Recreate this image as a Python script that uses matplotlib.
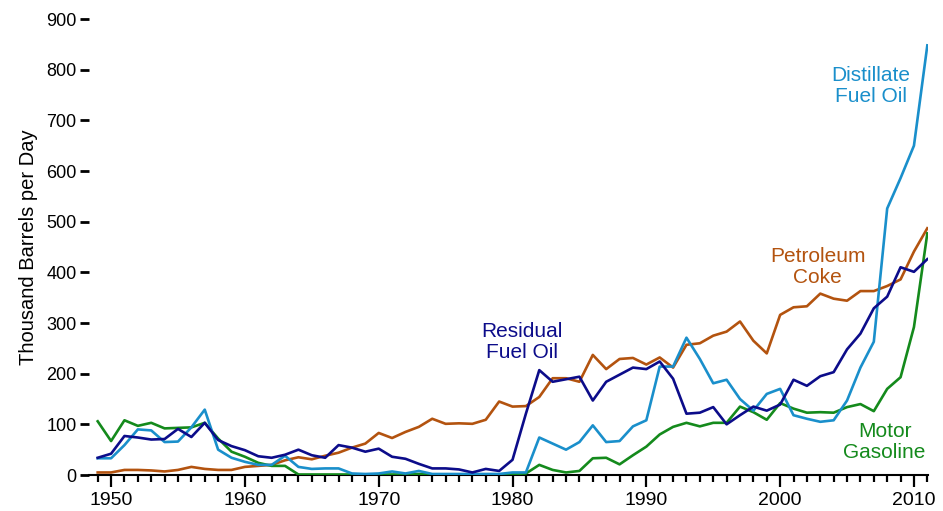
import matplotlib
matplotlib.use("Agg")
import matplotlib.pyplot as plt
from matplotlib.ticker import MultipleLocator

plt.rcParams['font.family'] = ['Liberation Sans', 'DejaVu Sans']

years = list(range(1949, 2012))

residual = [34, 42, 77, 74, 70, 71, 91, 75, 103, 69, 57, 49, 37, 34, 40, 50, 39, 34, 59, 54,
            46, 52, 36, 32, 22, 13, 13, 11, 5, 12, 8, 30, 121, 207, 184, 189, 194, 147, 184, 198,
            212, 209, 224, 190, 121, 123, 134, 100, 118, 135, 127, 139, 188, 176, 195, 203, 248, 279, 329, 352,
            410, 401, 426]

distillate = [33, 33, 59, 90, 88, 65, 66, 94, 129, 50, 34, 26, 20, 20, 38, 16, 12, 13, 13, 3,
              2, 3, 7, 3, 8, 2, 2, 2, 2, 2, 2, 5, 5, 74, 62, 50, 65, 98, 65, 67,
              96, 108, 214, 214, 271, 229, 181, 188, 150, 127, 160, 170, 118, 111, 105, 108, 147, 212, 263, 526,
              586, 650, 848]

gasoline = [106, 67, 108, 97, 103, 92, 93, 94, 103, 72, 46, 36, 24, 18, 18, 1, 1, 1, 1, 1,
            1, 1, 1, 1, 2, 1, 1, 1, 1, 1, 1, 2, 3, 20, 10, 5, 8, 33, 34, 21,
            39, 56, 80, 95, 103, 96, 103, 103, 135, 124, 109, 142, 131, 123, 124, 123, 134, 140, 126, 170,
            193, 292, 477]

coke = [5, 5, 10, 10, 9, 7, 10, 16, 12, 10, 10, 16, 18, 20, 29, 35, 31, 38, 44, 54,
        62, 83, 73, 85, 95, 111, 101, 102, 101, 109, 145, 135, 136, 154, 191, 191, 184, 237, 209, 229,
        231, 218, 232, 212, 257, 260, 275, 283, 303, 265, 240, 316, 331, 333, 358, 348, 344, 363, 363, 373,
        386, 441, 487]

c_res = "#0c0c8a"
c_dist = "#1a8fcb"
c_gas = "#148a1c"
c_coke = "#b3530f"

fig = plt.figure(figsize=(9.43, 5.11), dpi=100)
ax = fig.add_axes([89/943, 1 - 475/511, (928 - 89)/943, (475 - 19)/511])

lw = 1.9
ax.plot(years, coke, color=c_coke, lw=lw, zorder=3)
ax.plot(years, gasoline, color=c_gas, lw=lw, zorder=4)
ax.plot(years, distillate, color=c_dist, lw=lw, zorder=5)
ax.plot(years, residual, color=c_res, lw=lw, zorder=6)

ax.set_xlim(1948.35, 2011.05)
ax.set_ylim(0, 900)

for s in ['top', 'right', 'left']:
    ax.spines[s].set_visible(False)
ax.spines['bottom'].set_linewidth(1.5)
ax.spines['bottom'].set_color('black')

ax.xaxis.set_major_locator(MultipleLocator(10))
ax.xaxis.set_minor_locator(MultipleLocator(1))
ax.yaxis.set_major_locator(MultipleLocator(100))
ax.tick_params(axis='x', which='major', direction='out', length=8.5, width=1.6, pad=3.5, labelsize=14)
ax.tick_params(axis='x', which='minor', direction='out', length=5, width=1.6)
ax.tick_params(axis='y', which='major', direction='out', length=6.5, width=2, pad=2.5, labelsize=13)

ax.set_ylabel("Thousand Barrels per Day", fontsize=14.5, labelpad=6)

fs = 15
ax.text(2006.8, 768, "Distillate\nFuel Oil", color=c_dist, fontsize=fs, ha='center', va='center', linespacing=1.15)
ax.text(2002.8, 410, "Petroleum\nCoke", color=c_coke, fontsize=fs, ha='center', va='center', linespacing=1.15)
ax.text(2007.8, 65, "Motor\nGasoline", color=c_gas, fontsize=fs, ha='center', va='center', linespacing=1.15)
ax.text(1980.7, 262, "Residual\nFuel Oil", color=c_res, fontsize=fs, ha='center', va='center', linespacing=1.15)

fig.savefig("out.png", dpi=100)
